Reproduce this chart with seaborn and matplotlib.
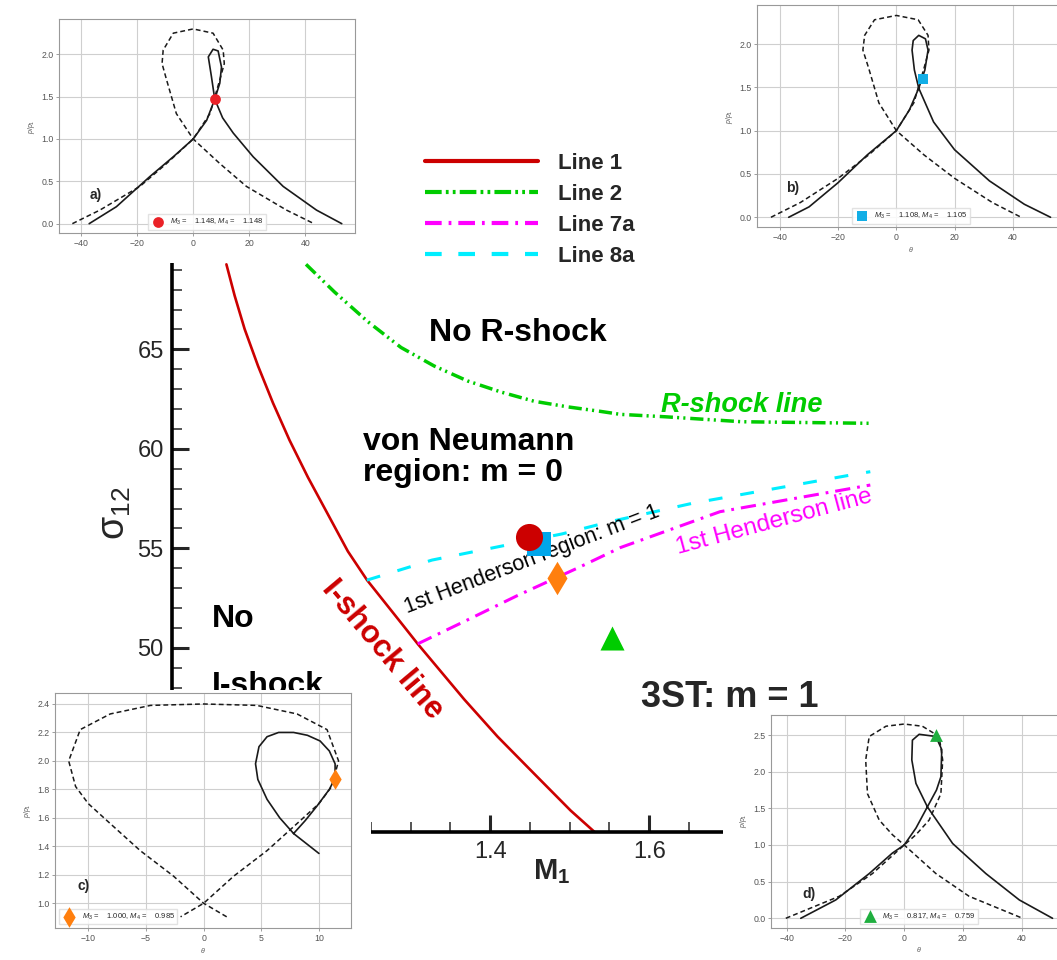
import matplotlib
matplotlib.use("Agg")
import matplotlib.pyplot as plt
from matplotlib.lines import Line2D
from matplotlib.patches import Rectangle
from matplotlib.ticker import MultipleLocator
import seaborn as sns

W, H = 1057, 960

# ---- main diagram: sigma_12 vs M_1
line1_m1 = [1.0684, 1.0788, 1.0913, 1.1082, 1.1270, 1.1478, 1.1709, 1.1960, 1.2211,
            1.2453, 1.2905, 1.3089, 1.3674, 1.4093, 1.4552, 1.5013, 1.5326]
line1_s12 = [69.27, 67.69, 66.02, 64.16, 62.30, 60.43, 58.57, 56.71, 54.85,
             53.40, 51.13, 50.20, 47.41, 45.54, 43.68, 41.82, 40.70]

line2_m1 = [1.1685, 1.2043, 1.2462, 1.2880, 1.3297, 1.3716, 1.4139, 1.4552, 1.4971,
            1.5389, 1.5640, 1.6200, 1.7165, 1.8800]
line2_s12 = [69.27, 67.88, 66.39, 65.09, 64.16, 63.41, 62.85, 62.39, 62.11,
             61.88, 61.73, 61.61, 61.36, 61.28]

line7a_m1 = [1.309, 1.372, 1.434, 1.510, 1.564, 1.689, 1.878]
line7a_s12 = [50.20, 51.41, 52.62, 54.01, 55.04, 56.84, 58.18]

line8a_m1 = [1.245, 1.327, 1.490, 1.551, 1.654, 1.860, 1.878]
line8a_s12 = [53.40, 54.41, 55.72, 56.34, 57.26, 58.73, 58.85]

# cases a)-d) in the (M1, sigma12) plane
case_m1 = [1.4489, 1.4615, 1.4844, 1.5532]
case_s12 = [55.59, 55.22, 53.49, 50.48]

legend_labels = ["Line 1", "Line 2", "Line 7a", "Line 8a"]

# ---- inset shock polars (theta, p/p1)
a_dash_t = [-43.1, -33.3, -19.0, -9.5, 0.0, 6.0, 9.5, 11.1, 10.7, 7.1, 0.0, -7.1, -10.7, -11.1, -9.5, -6.0, 0.0, 9.5, 19.0, 33.3, 43.1]
a_dash_p = [0.0, 0.16, 0.44, 0.71, 1.0, 1.30, 1.70, 1.89, 2.05, 2.25, 2.30, 2.25, 2.05, 1.89, 1.70, 1.30, 1.0, 0.71, 0.44, 0.16, 0.0]
a_solid_t = [-37.1, -27.4, -15.5, -7.1, 0.0, 4.8, 7.7, 9.5, 10.1, 8.9, 7.1, 5.4, 6.5, 7.7, 10.5, 14.3, 21.4, 32.1, 44.0, 53.0]
a_solid_p = [0.0, 0.20, 0.555, 0.79, 1.0, 1.22, 1.47, 1.66, 1.85, 2.04, 2.06, 1.97, 1.74, 1.47, 1.25, 1.07, 0.79, 0.44, 0.16, 0.0]

b_dash_t = [-43.1, -33.0, -20.0, -9.5, 0.0, 6.0, 9.5, 11.2, 10.9, 7.5, 0.0, -7.5, -10.9, -11.5, -9.5, -6.0, 0.0, 9.5, 20.0, 33.0, 42.9]
b_dash_p = [0.0, 0.17, 0.45, 0.72, 1.0, 1.32, 1.72, 1.93, 2.10, 2.28, 2.33, 2.28, 2.10, 1.93, 1.72, 1.32, 1.0, 0.72, 0.45, 0.17, 0.0]
b_solid_t = [-37.0, -30.0, -20.0, -10.0, 0.0, 4.5, 7.7, 9.8, 10.9, 10.0, 7.7, 5.8, 5.4, 6.2, 7.7, 12.8, 20.0, 32.0, 44.0, 53.0]
b_solid_p = [0.0, 0.12, 0.40, 0.72, 1.0, 1.24, 1.49, 1.70, 1.93, 2.06, 2.10, 2.04, 1.93, 1.70, 1.49, 1.10, 0.78, 0.42, 0.15, 0.0]

c_dash_t = [2.0, 0.0, -2.6, -5.5, -8.1, -10.0, -11.1, -11.7, -10.7, -8.1, -4.6, 0.0, 4.6, 8.1, 10.7, 11.7, 11.1, 10.0, 8.1, 5.5, 2.6, 0.0, -2.0]
c_dash_p = [0.905, 1.0, 1.19, 1.37, 1.56, 1.70, 1.82, 2.0, 2.22, 2.33, 2.39, 2.40, 2.39, 2.33, 2.22, 2.0, 1.82, 1.70, 1.56, 1.37, 1.19, 1.0, 0.905]
c_solid_t = [10.0, 8.9, 7.8, 6.6, 5.5, 4.7, 4.5, 4.8, 5.5, 6.5, 7.8, 9.0, 10.1, 10.9, 11.4, 11.4, 10.9, 9.8, 8.8, 7.8]
c_solid_p = [1.35, 1.42, 1.49, 1.60, 1.73, 1.87, 1.98, 2.10, 2.17, 2.20, 2.20, 2.18, 2.14, 2.07, 1.98, 1.88, 1.80, 1.68, 1.58, 1.49]

d_dash_t = [-40.3, -22.1, -10.8, 0.0, 4.0, 8.5, 12.5, 13.1, 11.9, 6.2, 0.0, -6.2, -11.9, -13.1, -12.5, -8.5, -4.0, 0.0, 10.8, 22.1, 40.3]
d_dash_p = [0.0, 0.30, 0.61, 1.0, 1.14, 1.34, 1.70, 2.16, 2.48, 2.62, 2.65, 2.62, 2.48, 2.16, 1.70, 1.34, 1.14, 1.0, 0.61, 0.30, 0.0]
d_solid_t = [-35.2, -23.3, -11.9, -4.0, 0.0, 4.0, 7.9, 11.0, 12.5, 12.8, 10.8, 5.1, 2.8, 2.6, 4.0, 7.9, 16.5, 27.8, 39.2, 50.5]
d_solid_p = [0.0, 0.25, 0.61, 0.89, 1.0, 1.23, 1.52, 1.75, 1.93, 2.30, 2.48, 2.51, 2.43, 2.16, 1.84, 1.52, 1.02, 0.61, 0.25, 0.0]

inset_pts_t = [7.7, 9.2, 11.4, 10.8]
inset_pts_p = [1.47, 1.60, 1.87, 2.50]
inset_labels = ["$M_3$ =    1.148, $M_4$ =    1.148",
                "$M_3$ =    1.108, $M_4$ =    1.105",
                "$M_3$ =    1.000, $M_4$ =    0.985",
                "$M_3$ =    0.817, $M_4$ =    0.759"]


def fx(px):
    return px / W


def fy(py):
    return 1 - py / H


def draw_line(ax, x, y, color, lw, style=None, zorder=2):
    sns.lineplot(x=x, y=y, ax=ax, color=color, linewidth=lw, sort=False,
                 estimator=None, zorder=zorder)
    line = ax.lines[-1]
    if style:
        line.set_linestyle(style)
    return line


sns.set_style("white")
plt.rcParams["font.family"] = ["Liberation Sans", "DejaVu Sans"]
plt.rcParams["lines.scale_dashes"] = False
plt.rcParams["mathtext.fontset"] = "custom"
plt.rcParams["mathtext.rm"] = "Liberation Sans"
plt.rcParams["mathtext.it"] = "Liberation Sans:italic"
plt.rcParams["mathtext.bf"] = "Liberation Sans:bold"

fig = plt.figure(figsize=(W / 100, H / 100), dpi=100)
ax = fig.add_axes([fx(172), fy(832.3), fx(887.8) - fx(172), fy(249.8) - fy(832.3)])

red, green, magenta, cyan = "#cc0000", "#00cc00", "#ff00ff", "#00eeff"
dash2 = (0, (9.5, 3, 1.5, 3, 1.5, 3.5))
dash7 = (0, (11, 5, 2, 5))
dash8 = (0, (10, 13))

draw_line(ax, line1_m1, line1_s12, red, 1.9)
draw_line(ax, line2_m1, line2_s12, green, 2.5, dash2)
draw_line(ax, line7a_m1, line7a_s12, magenta, 2.2, dash7)
draw_line(ax, line8a_m1, line8a_s12, cyan, 2.2, dash8)

markers = ["o", "s", "d", "^"]
mcolors = ["#cc0000", "#00a6ea", "#ff7f0e", "#00cc00"]
msizes = [380, 320, 290, 300]
for i in range(4):
    sns.scatterplot(x=[case_m1[i]], y=[case_s12[i]], marker=markers[i], s=msizes[i],
                    color=mcolors[i], linewidth=0, ax=ax, zorder=4 - i * 0.5)

ax.set_xlim(1.0, 1.9)
ax.set_ylim(40.73, 70)
ax.xaxis.set_major_locator(MultipleLocator(0.2))
ax.xaxis.set_minor_locator(MultipleLocator(0.05))
ax.yaxis.set_major_locator(MultipleLocator(5))
ax.yaxis.set_minor_locator(MultipleLocator(1))
# labels that sit under the inset panels are left blank
ax.xaxis.set_major_formatter(plt.FuncFormatter(
    lambda v, p: f"{v:.1f}" if 1.3 < v < 1.7 else ""))
ax.yaxis.set_major_formatter(plt.FuncFormatter(
    lambda v, p: f"{v:.0f}" if 47 < v < 68 else ""))
ax.tick_params(which="both", bottom=True, left=True, top=False, right=False)
ax.tick_params(which="major", direction="in", length=12, width=2.2, labelsize=17, pad=6)
ax.tick_params(which="minor", direction="in", length=7, width=1.1)
sns.despine(ax=ax)
for s in ["left", "bottom"]:
    ax.spines[s].set_linewidth(2.6)
    ax.spines[s].set_color("black")

ax.set_ylabel(r"$\mathrm{\sigma}_{12}$", fontsize=27, rotation=90)
ax.yaxis.set_label_coords(-0.0545, 0.548)
ax.set_xlabel(r"$\mathbf{M}_\mathbf{1}$", fontsize=21)
ax.xaxis.set_label_coords(0.531, -0.043)

# legend
handles = [
    Line2D([], [], color=red, lw=3),
    Line2D([], [], color=green, lw=3, linestyle=(0, (12, 3, 2, 3, 2, 3))),
    Line2D([], [], color=magenta, lw=3, linestyle=(0, (12, 5, 2, 5))),
    Line2D([], [], color=cyan, lw=3, linestyle=(0, (12, 12))),
]
ax.legend(handles, legend_labels, loc="upper left", bbox_to_anchor=(fx(425), fy(153)),
          bbox_transform=fig.transFigure, frameon=False,
          prop={"weight": "bold", "size": 16}, handlelength=5.1, handletextpad=0.9,
          labelspacing=0.45, borderpad=0, borderaxespad=0)

# region annotations
big = dict(fontsize=23, fontweight="bold", color="black", ha="left", va="baseline")
ax.text(1.3231, 65.42, "No R-shock", **big)
ax.text(1.2403, 59.96, "von Neumann", **big)
ax.text(1.2403, 58.38, "region: m = 0", **big)
ax.text(1.0496, 51.06, "No", **big)
ax.text(1.0496, 47.68, "I-shock", **big)
ax.text(1.5891, 47.04, "3ST: m = 1", fontsize=26, fontweight="bold", ha="left", va="baseline")
ax.text(1.6154, 61.85, "R-shock line", fontsize=19.5, fontweight="bold", fontstyle="italic",
        color=green, ha="left", va="baseline")
ax.text(1.264, 49.9, "I-shock line", fontsize=22.5, fontweight="bold", color=red,
        rotation=-50, rotation_mode="anchor", ha="center", va="center")
ax.text(1.4523, 54.45, "1st Henderson region: m = 1", fontsize=15.5, color="black",
        rotation=21, rotation_mode="anchor", ha="center", va="center")
ax.text(1.7566, 56.32, "1st Henderson line", fontsize=17.5, color=magenta,
        rotation=15, rotation_mode="anchor", ha="center", va="center")

# white panels that hold the four shock-polar insets
for x0, y0, x1, y1 in [(0, 0, 368, 263), (700, 0, W, 255), (0, 690, 371, H), (723, 712, W, H)]:
    fig.add_artist(Rectangle((fx(x0), fy(y1)), fx(x1) - fx(x0), fy(y0) - fy(y1),
                             transform=fig.transFigure, facecolor="white",
                             edgecolor="none", zorder=5))

insets = [
    dict(box=(58.9, 19.2, 355.2, 233.4), xlim=(-47.9, 57.8), ylim=(-0.115, 2.415),
         xt=20, yt=0.5, dt=a_dash_t, dp=a_dash_p, st=a_solid_t, sp=a_solid_p,
         mk="o", mc="#ea2127", ms=60, loc="lower center", tag="a)", tagxy=(90, 199), xlab=False),
    dict(box=(757, 5.3, 1064.5, 227.4), xlim=(-47.9, 57.8), ylim=(-0.117, 2.447),
         xt=20, yt=0.5, dt=b_dash_t, dp=b_dash_p, st=b_solid_t, sp=b_solid_p,
         mk="s", mc="#12aee6", ms=60, loc="lower center", tag="b)", tagxy=(786, 192), xlab=True),
    dict(box=(55.2, 693.3, 350.9, 928.2), xlim=(-12.87, 12.77), ylim=(0.825, 2.475),
         xt=5, yt=0.2, dt=c_dash_t, dp=c_dash_p, st=c_solid_t, sp=c_solid_p,
         mk="d", mc="#ff7f0e", ms=110, loc="lower left", tag="c)", tagxy=(77, 890), xlab=True),
    dict(box=(771.4, 714.5, 1065.9, 928.0), xlim=(-45.2, 55.05), ylim=(-0.1325, 2.78),
         xt=20, yt=0.5, dt=d_dash_t, dp=d_dash_p, st=d_solid_t, sp=d_solid_p,
         mk="^", mc="#1fae3f", ms=85, loc="lower center", tag="d)", tagxy=(802, 898), xlab=True),
]

for k, ins in enumerate(insets):
    x0, y0, x1, y1 = ins["box"]
    iax = fig.add_axes([fx(x0), fy(y1), fx(x1) - fx(x0), fy(y0) - fy(y1)])
    iax.set_zorder(6)
    iax.set_facecolor("white")
    iax.grid(True, color="#cfcfcf", linewidth=0.8)
    iax.set_axisbelow(True)
    draw_line(iax, ins["dt"], ins["dp"], "#1a1a1a", 1.1, (0, (3.5, 2.2)))
    draw_line(iax, ins["st"], ins["sp"], "#1a1a1a", 1.2)
    sns.scatterplot(x=[inset_pts_t[k]], y=[inset_pts_p[k]], marker=ins["mk"], s=ins["ms"],
                    color=ins["mc"], linewidth=0, ax=iax, zorder=5, label=inset_labels[k])
    iax.set_xlim(*ins["xlim"])
    iax.set_ylim(*ins["ylim"])
    iax.xaxis.set_major_locator(MultipleLocator(ins["xt"]))
    iax.yaxis.set_major_locator(MultipleLocator(ins["yt"]))
    iax.tick_params(bottom=True, left=True, labelsize=6.3, labelcolor="#555555", length=2,
                    width=0.5, color="#777777", pad=2)
    for s in iax.spines.values():
        s.set_color("#999999")
        s.set_linewidth(0.8)
    iax.set_ylabel("$p/p_1$", fontsize=5, color="#555555", labelpad=3)
    iax.set_xlabel(r"$\theta$" if ins["xlab"] else "", fontsize=5, color="#555555", labelpad=2)
    iax.legend(loc=ins["loc"], fontsize=5.5, frameon=True, framealpha=0.85,
               edgecolor="#dddddd", borderpad=0.35, handletextpad=0.6, markerscale=1.0,
               fancybox=False)
    fig.text(fx(ins["tagxy"][0]), fy(ins["tagxy"][1]), ins["tag"], fontsize=10,
             fontweight="bold", ha="left", va="baseline", zorder=7)

fig.savefig("out.png", dpi=100)
